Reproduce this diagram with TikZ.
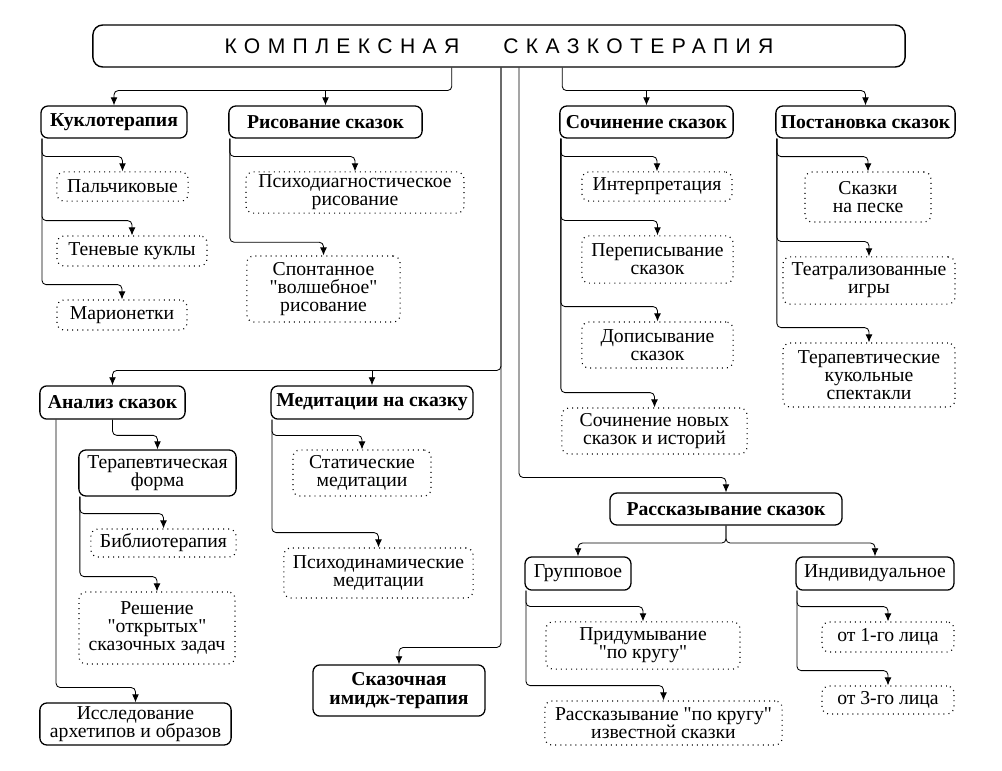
\documentclass[tikz,border=0pt]{standalone}
\usepackage{fontspec}
\setmainfont{Liberation Serif}[Ligatures=TeXOff]
\newfontfamily\titlefont[LetterSpace=35]{Liberation Sans}
\usetikzlibrary{arrows.meta}

\tikzset{
  box/.style={draw, line width=0.9pt, rounded corners=5pt, align=center, inner sep=1pt, font=\fontsize{14}{13}\selectfont},
  headbox/.style={box, font=\fontsize{14}{13}\selectfont\bfseries},
  dotbox/.style={box, line width=0.8pt, dash pattern=on 0.7pt off 2.9pt},
  conn/.style={line width=0.6pt, rounded corners=3pt, -{Latex[length=2mm,width=1.7mm]}}
}

\begin{document}
\begin{tikzpicture}[x=0.025cm, y=-0.025cm]
\useasboundingbox (0,0) rectangle (1002,771);

\node[box, line width=1pt, rounded corners=7pt, minimum width=20.3cm, minimum height=1.05cm] (title) at (499,46) {\titlefont\fontsize{15}{15}\selectfont КОМПЛЕКСНАЯ\hspace{1.1cm}СКАЗКОТЕРАПИЯ};

\node[headbox, minimum width=3.65cm, minimum height=0.8cm] (kuklo) at (114,122) {Куклотерапия};
\node[headbox, minimum width=4.83cm, minimum height=0.8cm] (risov) at (325.5,122) {Рисование сказок};
\node[headbox, minimum width=4.33cm, minimum height=0.8cm] (sochin) at (646.5,122) {Сочинение сказок};
\node[headbox, minimum width=4.48cm, minimum height=0.8cm] (postan) at (865.5,122) {Постановка сказок};

\node[dotbox, minimum width=3.28cm, minimum height=0.73cm] (palch) at (122.5,186.5) {Пальчиковые};
\node[dotbox, minimum width=3.75cm, minimum height=0.75cm] (tenev) at (132,251) {Теневые куклы};
\node[dotbox, minimum width=3.25cm, minimum height=0.75cm] (marion) at (122,315) {Марионетки};
\node[dotbox, minimum width=5.45cm, minimum height=1.03cm] (psdiag) at (355,192.5) {Психодиагностическое\\рисование};
\node[dotbox, minimum width=3.83cm, minimum height=1.65cm] (spont) at (323.5,289) {Спонтанное\\"волшебное"\\рисование};

\node[dotbox, minimum width=3.75cm, minimum height=0.73cm] (interp) at (657,186.5) {Интерпретация};
\node[dotbox, minimum width=3.78cm, minimum height=1.18cm] (perepis) at (657.5,259.5) {Переписывание\\сказок};
\node[dotbox, minimum width=3.78cm, minimum height=1.15cm] (dopis) at (657.5,345) {Дописывание\\сказок};
\node[dotbox, minimum width=4.63cm, minimum height=1.15cm] (novye) at (654.5,431) {Сочинение новых\\сказок и историй};
\node[dotbox, minimum width=3.15cm, minimum height=1.25cm] (pesok) at (868,197) {Сказки\\на песке};
\node[dotbox, minimum width=4.3cm, minimum height=1.18cm] (teatr) at (869,280.5) {Театрализованные\\игры};
\node[dotbox, minimum width=4.3cm, minimum height=1.6cm] (spekt) at (869,375) {Терапевтические\\кукольные\\спектакли};

\node[headbox, minimum width=3.63cm, minimum height=0.83cm] (analiz) at (112.5,402.5) {Анализ сказок};
\node[headbox, minimum width=5.05cm, minimum height=0.83cm] (medit) at (372,402.5) {Медитации на сказку};
\node[box, minimum width=3.93cm, minimum height=1.15cm] (terforma) at (157.5,473) {Терапевтическая\\форма};
\node[dotbox, minimum width=3.63cm, minimum height=0.7cm] (biblio) at (163.5,543) {Библиотерапия};
\node[dotbox, minimum width=3.9cm, minimum height=1.8cm] (reshen) at (157,628) {Решение\\"открытых"\\сказочных задач};
\node[box, minimum width=4.78cm, minimum height=1.05cm] (issled) at (135.5,724) {Исследование\\архетипов и образов};
\node[dotbox, minimum width=3.45cm, minimum height=1.15cm] (statik) at (362,473) {Статические\\медитации};
\node[dotbox, minimum width=4.73cm, minimum height=1.25cm] (psdin) at (378.5,573) {Психодинамические\\медитации};
\node[headbox, minimum width=4.3cm, minimum height=1.28cm] (imidzh) at (399,690.5) {Сказочная\\имидж-терапия};

\node[headbox, minimum width=5.8cm, minimum height=0.8cm] (rasskaz) at (726,509) {Рассказывание сказок};
\node[box, minimum width=2.65cm, minimum height=0.83cm] (grupp) at (578,573.5) {Групповое};
\node[box, minimum width=3.95cm, minimum height=0.83cm] (indiv) at (875,573.5) {Индивидуальное};
\node[dotbox, minimum width=4.85cm, minimum height=1.18cm] (pridum) at (643,645.5) {Придумывание\\"по кругу"};
\node[dotbox, minimum width=5.93cm, minimum height=1.1cm] (izvest) at (663.5,723) {Рассказывание "по кругу"\\известной сказки};
\node[dotbox, minimum width=3.3cm, minimum height=0.75cm] (ot1) at (888,637) {от 1-го лица};
\node[dotbox, minimum width=3.3cm, minimum height=0.7cm] (ot3) at (888,700) {от 3-го лица};

\draw[conn] ([xshift=-1.18cm]title.south) |- ([yshift=0.37cm]kuklo.north) -- (kuklo.north);
\draw[conn] ([yshift=0.37cm]risov.north) -- (risov.north);
\draw[conn] ([xshift=0.05cm]title.south) |- ([yshift=0.37cm]analiz.north) -- (analiz.north);
\draw[conn] ([yshift=0.37cm]medit.north) -- (medit.north);
\draw[conn] ([xshift=0.05cm]title.south) |- ([yshift=0.42cm]imidzh.north) -- (imidzh.north);
\draw[conn] ([xshift=0.5cm]title.south) |- ([yshift=0.37cm]rasskaz.north) -- (rasskaz.north);
\draw[conn] ([xshift=1.58cm]title.south) |- ([yshift=0.37cm]postan.north) -- (postan.north);
\draw[conn] ([yshift=0.37cm]sochin.north) -- (sochin.north);

\draw[conn] ([xshift=0.4mm]kuklo.south west) |- ([yshift=0.37cm]palch.north) -- (palch.north);
\draw[conn] ([xshift=0.4mm]kuklo.south west) |- ([yshift=0.37cm]tenev.north) -- (tenev.north);
\draw[conn] ([xshift=0.4mm]kuklo.south west) |- ([yshift=0.37cm]marion.north) -- (marion.north);
\draw[conn] ([xshift=0.4mm]risov.south west) |- ([yshift=0.37cm]psdiag.north) -- (psdiag.north);
\draw[conn] ([xshift=0.4mm]risov.south west) |- ([yshift=0.33cm]spont.north) -- (spont.north);

\draw[conn] ([xshift=0.4mm]sochin.south west) |- ([yshift=0.37cm]interp.north) -- (interp.north);
\draw[conn] ([xshift=0.4mm]sochin.south west) |- ([yshift=0.37cm]perepis.north) -- (perepis.north);
\draw[conn] ([xshift=0.4mm]sochin.south west) |- ([yshift=0.37cm]dopis.north) -- (dopis.north);
\draw[conn] ([xshift=0.4mm]sochin.south west) |- ([yshift=0.37cm]novye.north) -- (novye.north);
\draw[conn] ([xshift=0.4mm]postan.south west) |- ([yshift=0.37cm]pesok.north) -- (pesok.north);
\draw[conn] ([xshift=0.4mm]postan.south west) |- ([yshift=0.37cm]teatr.north) -- (teatr.north);
\draw[conn] ([xshift=0.4mm]postan.south west) |- ([yshift=0.37cm]spekt.north) -- (spekt.north);

\draw[conn] (analiz.south) |- ([yshift=0.35cm]terforma.north) -- (terforma.north);
\draw[conn] ([xshift=0.42cm]analiz.south west) |- ([yshift=0.37cm]issled.north) -- (issled.north);
\draw[conn] ([xshift=0.4mm]terforma.south west) |- ([yshift=0.37cm]biblio.north) -- (biblio.north);
\draw[conn] ([xshift=0.4mm]terforma.south west) |- ([yshift=0.37cm]reshen.north) -- (reshen.north);
\draw[conn] ([xshift=0.4mm]medit.south west) |- ([yshift=0.35cm]statik.north) -- (statik.north);
\draw[conn] ([xshift=0.4mm]medit.south west) |- ([yshift=0.37cm]psdin.north) -- (psdin.north);

\draw[conn] (rasskaz.south) |- ([yshift=0.33cm]grupp.north) -- (grupp.north);
\draw[conn] (rasskaz.south) |- ([yshift=0.33cm]indiv.north) -- (indiv.north);
\draw[conn] ([xshift=0.4mm]grupp.south west) |- ([yshift=0.37cm]pridum.north) -- (pridum.north);
\draw[conn] ([xshift=0.4mm]grupp.south west) |- ([yshift=0.37cm]izvest.north) -- (izvest.north);
\draw[conn] ([xshift=0.4mm]indiv.south west) |- ([yshift=0.37cm]ot1.north) -- (ot1.north);
\draw[conn] ([xshift=0.4mm]indiv.south west) |- ([yshift=0.37cm]ot3.north) -- (ot3.north);
\end{tikzpicture}
\end{document}
